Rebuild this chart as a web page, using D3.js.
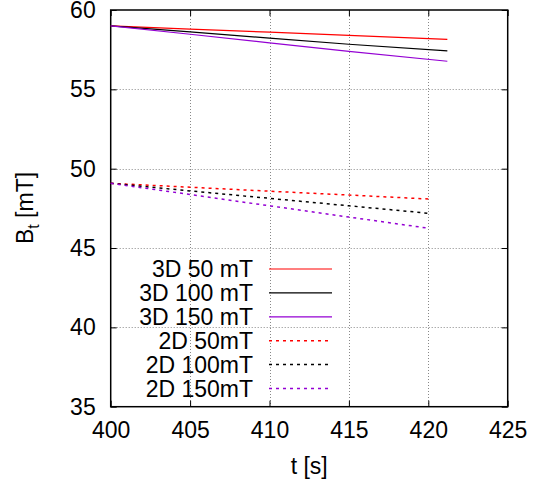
<!DOCTYPE html>
<html>
<head>
<meta charset="utf-8">
<script src="https://cdn.jsdelivr.net/npm/d3@7"></script>
<style>
  body { margin: 0; background: #fff; }
  text { font-family: "Liberation Sans", Arial, sans-serif; fill: #000; }
</style>
</head>
<body>
<svg id="chart" width="533" height="481"></svg>
<script>
// series: [t, B] points
const SERIES_NAMES = ["3D 50 mT", "3D 100 mT", "3D 150 mT", "2D 50mT", "2D 100mT", "2D 150mT"];
const SERIES_COLORS = ["#ff0000", "#000000", "#9400d3", "#ff0000", "#000000", "#9400d3"];
const SERIES_DASHED = [false, false, false, true, true, true];
const T_3D = [400, 405, 410, 415, 421.2];
const T_2D = [400, 405, 410, 415, 420];
const B_3D_50 = [59.0, 58.8, 58.6, 58.4, 58.15];
const B_3D_100 = [59.0, 58.62, 58.23, 57.84, 57.42];
const B_3D_150 = [59.0, 58.47, 57.93, 57.39, 56.77];
const B_2D_50 = [49.08, 48.83, 48.58, 48.34, 48.09];
const B_2D_100 = [49.08, 48.6, 48.13, 47.66, 47.19];
const B_2D_150 = [49.08, 48.37, 47.66, 46.95, 46.25];
const X_TICKS = [400, 405, 410, 415, 420, 425];
const Y_TICKS = [35, 40, 45, 50, 55, 60];

const SERIES_T = [T_3D, T_3D, T_3D, T_2D, T_2D, T_2D];
const SERIES_B = [B_3D_50, B_3D_100, B_3D_150, B_2D_50, B_2D_100, B_2D_150];

const MARGIN = { left: 110.7, top: 10, right: 507.7, bottom: 406.7 };
const FONT = 23;
const TICK_LEN = 6;

const svg = d3.select("#chart");
const x = d3.scaleLinear().domain([400, 425]).range([MARGIN.left, MARGIN.right]);
const y = d3.scaleLinear().domain([35, 60]).range([MARGIN.bottom, MARGIN.top]);

// grid
const grid = svg.append("g").attr("stroke", "#888").attr("stroke-width", 1).attr("stroke-dasharray", "1,2");
grid.selectAll(".gx").data(X_TICKS.slice(1, -1)).enter().append("line")
    .attr("x1", d => Math.round(x(d)) + 0.5).attr("x2", d => Math.round(x(d)) + 0.5)
    .attr("y1", MARGIN.top).attr("y2", MARGIN.bottom);
grid.selectAll(".gy").data(Y_TICKS.slice(1, -1)).enter().append("line")
    .attr("y1", d => Math.round(y(d)) + 0.5).attr("y2", d => Math.round(y(d)) + 0.5)
    .attr("x1", MARGIN.left).attr("x2", MARGIN.right);

// axes with mirrored inward ticks
const axBottom = d3.axisBottom(x).tickValues(X_TICKS).tickSize(-TICK_LEN).tickPadding(12).tickFormat(d3.format("d"));
const axTop = d3.axisTop(x).tickValues(X_TICKS).tickSize(-TICK_LEN).tickFormat("");
const axLeft = d3.axisLeft(y).tickValues(Y_TICKS).tickSize(-TICK_LEN).tickPadding(15).tickFormat(d3.format("d"));
const axRight = d3.axisRight(y).tickValues(Y_TICKS).tickSize(-TICK_LEN).tickFormat("");

function styleAxis(g) {
    g.select(".domain").remove();
    g.selectAll(".tick line").attr("stroke", "#000").attr("stroke-width", 1);
    g.selectAll("text").style("font-size", FONT + "px").attr("font-family", null);
}
svg.append("g").attr("transform", `translate(0,${MARGIN.bottom})`).call(axBottom).call(styleAxis)
    .selectAll("text").attr("dy", "0.85em");
svg.append("g").attr("transform", `translate(0,${MARGIN.top})`).call(axTop).call(styleAxis);
svg.append("g").attr("transform", `translate(${MARGIN.left},0)`).call(axLeft).call(styleAxis);
svg.append("g").attr("transform", `translate(${MARGIN.right},0)`).call(axRight).call(styleAxis);

// frame
svg.append("rect")
    .attr("x", MARGIN.left).attr("y", MARGIN.top)
    .attr("width", MARGIN.right - MARGIN.left).attr("height", MARGIN.bottom - MARGIN.top)
    .attr("fill", "none").attr("stroke", "#000").attr("stroke-width", 1.5);

// lines
const line = d3.line().x(d => x(d[0])).y(d => y(d[1]));
SERIES_NAMES.forEach((name, i) => {
    const pts = SERIES_T[i].map((t, k) => [t, SERIES_B[i][k]]);
    svg.append("path").datum(pts)
        .attr("d", line)
        .attr("fill", "none")
        .attr("stroke", SERIES_COLORS[i])
        .attr("stroke-width", SERIES_DASHED[i] ? 1.5 : 1.2)
        .attr("stroke-dasharray", SERIES_DASHED[i] ? "3,4" : null);
});

// legend
const LEGEND_X = 253;
const LEGEND_Y0 = 269;
const LEGEND_STEP = 23.9;
const legend = svg.append("g");
SERIES_NAMES.forEach((name, i) => {
    const yy = LEGEND_Y0 + i * LEGEND_STEP;
    legend.append("text").attr("x", LEGEND_X).attr("y", yy).attr("dy", "0.35em")
        .attr("text-anchor", "end").style("font-size", FONT + "px").text(name);
    legend.append("line").attr("x1", 269).attr("x2", 332).attr("y1", yy).attr("y2", yy)
        .attr("stroke", SERIES_COLORS[i])
        .attr("stroke-width", SERIES_DASHED[i] ? 1.5 : 1.2)
        .attr("stroke-dasharray", SERIES_DASHED[i] ? "3,4" : null);
});

// axis labels
svg.append("text").attr("x", (MARGIN.left + MARGIN.right) / 2).attr("y", 474)
    .attr("text-anchor", "middle").style("font-size", FONT + "px").text("t [s]");
const yl = svg.append("text").attr("transform", "translate(33,208) rotate(-90)")
    .attr("text-anchor", "middle").style("font-size", FONT + "px");
yl.append("tspan").text("B");
yl.append("tspan").attr("dy", 6).style("font-size", "16px").text("t");
yl.append("tspan").attr("dy", -6).text(" [mT]");
</script>
</body>
</html>
